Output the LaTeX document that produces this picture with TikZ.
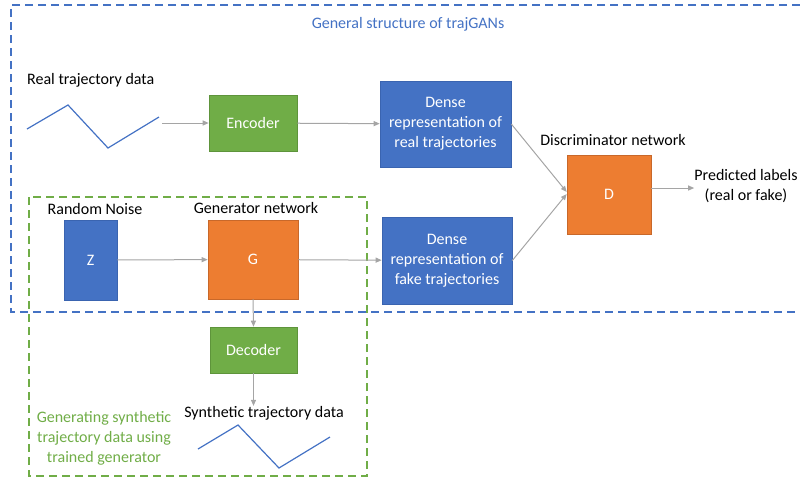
\documentclass[tikz,border=0pt]{standalone}
\usepackage{fontspec}
\setmainfont{Carlito}
\usetikzlibrary{arrows.meta}
\definecolor{oblue}{HTML}{4472C4}
\definecolor{oblueb}{HTML}{3A64B0}
\definecolor{oorange}{HTML}{ED7D31}
\definecolor{oorangeb}{HTML}{C8682A}
\definecolor{ogreen}{HTML}{70AD47}
\definecolor{ogreenb}{HTML}{5E943B}
\definecolor{ogray}{HTML}{A5A5A5}
\tikzset{
  box/.style={draw, line width=0.6pt, text=white, align=center, inner sep=0pt, font=\fontsize{16}{20}\selectfont},
  bluebox/.style={box, fill=oblue, draw=oblueb},
  orangebox/.style={box, fill=oorange, draw=oorangeb},
  greenbox/.style={box, fill=ogreen, draw=ogreenb},
  lbl/.style={align=center, inner sep=0pt, font=\fontsize{16}{20}\selectfont},
  conn/.style={draw=ogray, line width=1pt, -{Triangle[length=6pt,width=5pt]}},
  traj/.style={draw=oblue, line width=1.2pt},
}
\begin{document}
\begin{tikzpicture}[x=1pt,y=-1pt]
\useasboundingbox (0,0) rectangle (800,483);
% dashed frames
\draw[oblue, line width=1.8pt, dash pattern=on 8pt off 5pt] (800,5) -- (11,5) -- (11,312) -- (800,312);
\draw[ogreen, line width=1.8pt, dash pattern=on 8pt off 5pt] (29,197) rectangle (367,476);
\node[lbl, text=oblue] (title) at (408,24) {General structure of trajGANs};

% real trajectory
\node[lbl, anchor=west] (realtxt) at (27,80) {Real trajectory data};
\draw[traj] (27,129) -- (68,105) -- (108,148) -- (159,117);
\coordinate (realend) at (162,123);

% boxes
\node[greenbox, minimum width=88pt, minimum height=56pt] (enc) at (253,123) {Encoder};
\node[bluebox, minimum width=131pt, minimum height=86pt] (dreal) at (445.5,124) {Dense\\representation of\\real trajectories};
\node[bluebox, minimum width=130pt, minimum height=87pt] (dfake) at (447,260.5) {Dense\\representation of\\fake trajectories};
\node[orangebox, minimum width=84pt, minimum height=79pt] (D) at (609,194.5) {D};
\node[lbl] (disc) at (613,140) {Discriminator network};
\node[lbl] (pred) at (746,186) {Predicted labels\\(real or fake)};

\node[bluebox, minimum width=53pt, minimum height=80pt] (Z) at (90.5,260) {Z};
\node[lbl] (noise) at (95,209) {Random Noise};
\node[orangebox, minimum width=90pt, minimum height=79pt] (G) at (253,259.5) {G};
\node[lbl] (gen) at (256,208) {Generator network};
\node[greenbox, minimum width=87pt, minimum height=46pt] (dec) at (253.5,350) {Decoder};
\node[lbl] (synth) at (264,413) {Synthetic trajectory data};
\draw[traj] (198,449) -- (238,425) -- (279,468) -- (330,437);
\node[lbl, text=ogreen] (gentxt) at (104,438) {Generating synthetic\\trajectory data using\\trained generator};

% connectors
\draw[conn] (realend) -- (enc);
\draw[conn] (enc) -- (dreal);
\draw[conn] (dreal.east) -- (D.west |- 0,192);
\draw[conn] (dfake.east) -- (D.west |- 0,194);
\draw[conn] (D.east |- 0,188) -- (pred.west |- 0,188);
\draw[conn] (Z) -- (G);
\draw[conn] (G) -- (dfake);
\draw[conn] (G.south) -- (dec.north);
\draw[conn] (dec.south) -- (dec.south |- synth.north);
\end{tikzpicture}
\end{document}
